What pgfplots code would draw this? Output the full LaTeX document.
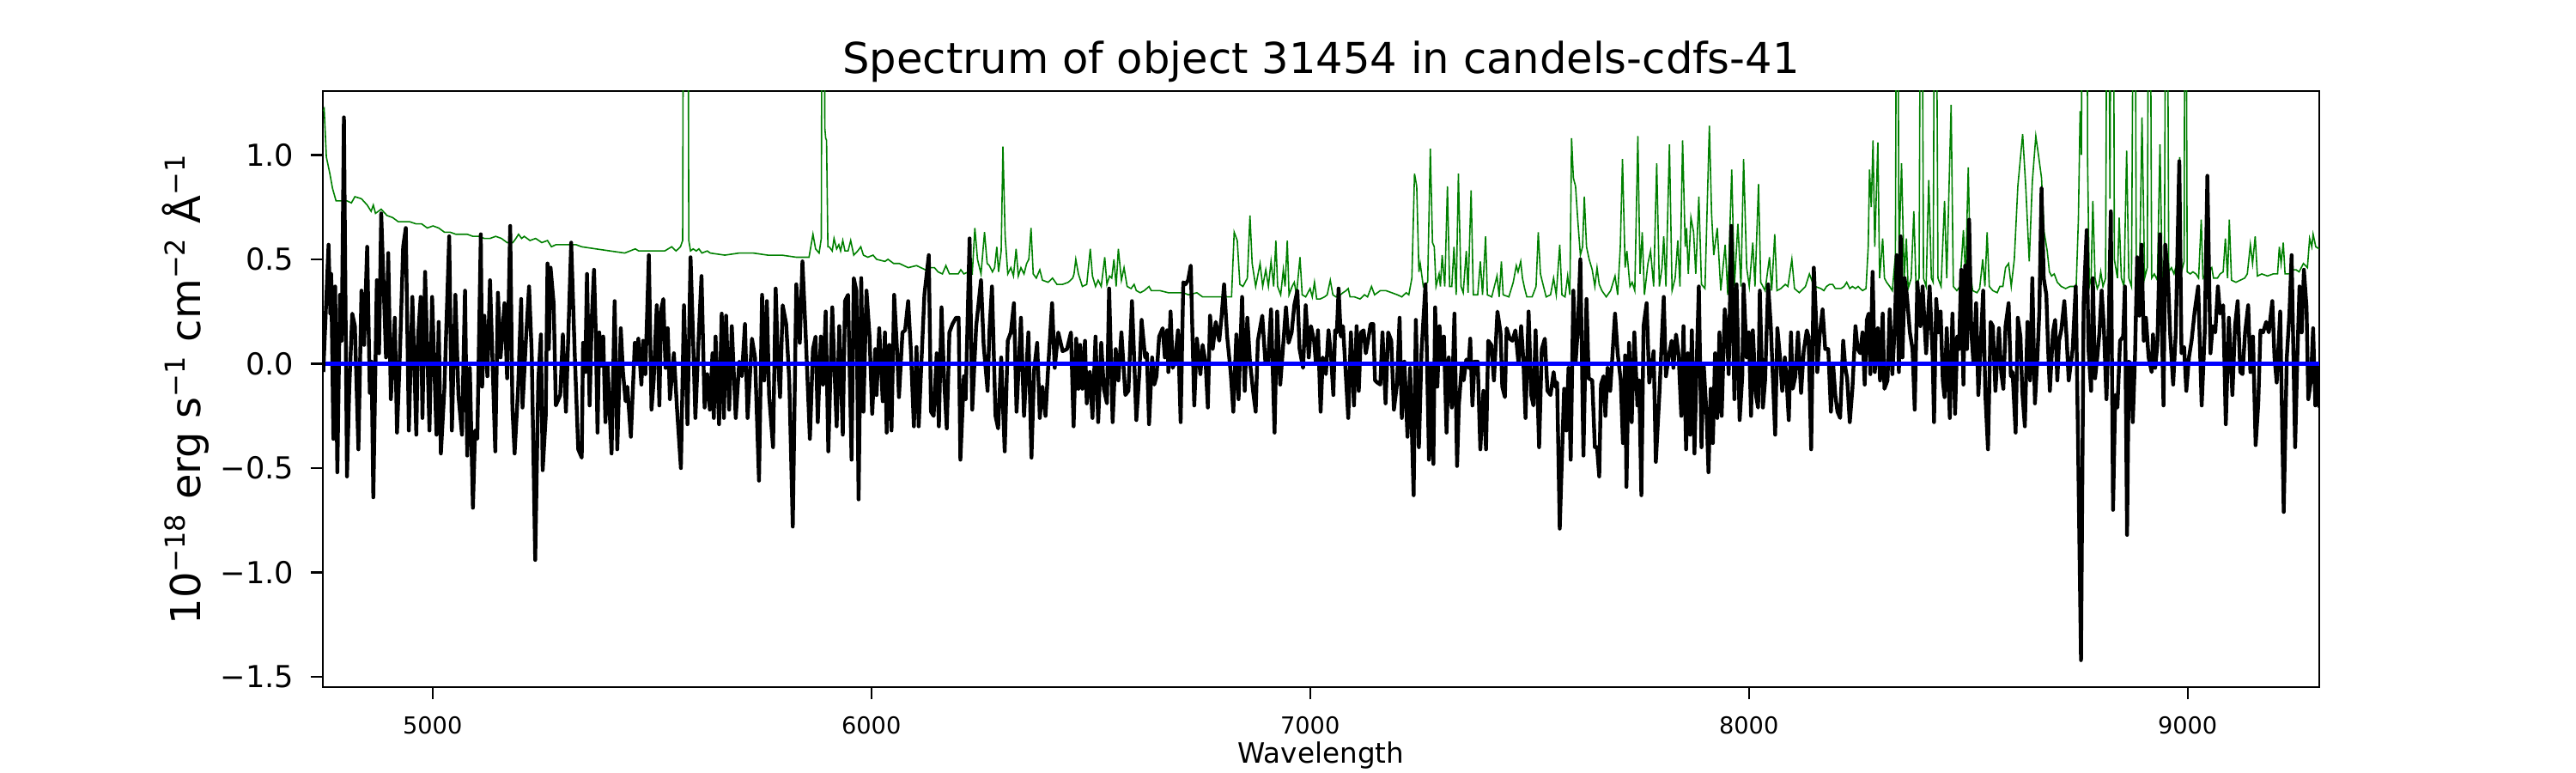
\documentclass[border=0pt]{standalone}
\usepackage{fontspec}
\setmainfont{DejaVu Sans}
\usepackage{pgfplots}
\pgfplotsset{compat=1.18}
\definecolor{mplgreen}{rgb}{0,0.5,0}
\begin{document}
\begin{tikzpicture}
\path[use as bounding box] (0,0) rectangle (750pt,225pt);
\begin{axis}[
  at={(94pt,25pt)}, anchor=south west,
  scale only axis, width=581.25pt, height=173.5pt,
  xmin=4750, xmax=9300, ymin=-1.549, ymax=1.306,
  axis line style={line width=0.6pt},
  xtick={5000,6000,7000,8000,9000},
  xticklabels={5000,6000,7000,8000,9000},
  ytick={-1.5,-1,-0.5,0,0.5,1},
  yticklabels={−1.5,−1.0,−0.5,0.0,0.5,1.0},
  tick align=outside, xtick pos=left, ytick pos=left,
  major tick length=3.5pt,
  every tick/.style={black, line width=0.6pt},
  xticklabel style={font=\fontsize{6.8}{8}\selectfont, inner sep=0pt, anchor=north, yshift=-5pt},
  yticklabel style={font=\fontsize{8.8}{10}\selectfont, inner sep=0pt, anchor=east, xshift=-4.75pt},
  title={Spectrum of object 31454 in candels-cdfs-41},
  title style={at={(axis description cs:0.5,0.9945)}, anchor=base, font=\fontsize{12.4}{14}\selectfont, inner sep=0pt},
  xlabel={Wavelength},
  xlabel style={at={(axis description cs:0.5,-0.1268)}, anchor=base, font=\fontsize{8.15}{10}\selectfont, inner sep=0pt},
  ylabel={10\textsuperscript{−18} erg s\textsuperscript{−1} cm\textsuperscript{−2} Å\textsuperscript{−1}},
  ylabel style={at={(axis description cs:-0.0688,0.5)}, anchor=center, font=\fontsize{12}{14}\selectfont, inner sep=0pt},
]
% error spectrum (green)
\addplot[mplgreen, line width=0.4pt] coordinates {
(4751,1.21) (4753,1.22) (4758,0.99) (4766,0.91) (4772,0.84) (4780,0.78) (4792,0.78) (4805,0.78) (4815,0.77) (4823,0.80) (4838,0.79) (4851,0.76) (4860,0.73) (4865,0.76) (4870,0.72) (4883,0.74) (4896,0.71) (4909,0.70) (4922,0.68) (4935,0.68) (4948,0.68) (4962,0.67) (4975,0.67) (4988,0.65) (5001,0.66) (5014,0.65) (5027,0.63) (5040,0.63) (5053,0.62) (5066,0.62) (5079,0.62) (5092,0.61) (5105,0.61) (5118,0.60) (5131,0.60) (5144,0.61) (5157,0.60) (5170,0.58) (5183,0.58) (5190,0.60) (5196,0.62) (5203,0.60) (5209,0.61) (5222,0.59) (5235,0.60) (5249,0.58) (5262,0.59) (5271,0.56) (5281,0.57) (5294,0.57) (5307,0.57) (5327,0.57)
(5340,0.56) (5372,0.55) (5405,0.54) (5438,0.53) (5462,0.55) (5470,0.54) (5503,0.54) (5529,0.54) (5545,0.56) (5555,0.54) (5565,0.56) (5570,0.59) (5573,3.0) (5581,3.0) (5584,0.59) (5588,0.54) (5594,0.55) (5601,0.54) (5607,0.55) (5614,0.53) (5626,0.54) (5633,0.53) (5666,0.52) (5699,0.53) (5731,0.53) (5764,0.52) (5796,0.52) (5829,0.51) (5858,0.51) (5867,0.62) (5873,0.55) (5881,0.53) (5886,0.60) (5888.5,3.0) (5892,3.0) (5894,1.13) (5896,1.08) (5898,1.07) (5901,0.56)
(5904,0.56) (5911,0.54) (5915,0.60) (5921,0.55) (5926,0.57) (5930,0.54) (5935,0.59) (5940,0.54) (5947,0.54) (5953,0.59) (5960,0.52) (5969,0.54) (5976,0.56) (5982,0.52) (5992,0.51) (6004,0.52) (6012,0.50) (6031,0.49) (6038,0.50) (6051,0.48) (6064,0.48) (6084,0.46) (6103,0.47) (6123,0.45) (6136,0.46) (6144,0.46) (6152,0.44) (6162,0.43) (6170,0.47) (6178,0.43) (6188,0.43) (6198,0.43) (6204,0.45) (6211,0.43) (6221,0.44) (6230,0.43) (6236,0.65) (6242,0.50) (6250,0.43) (6258,0.63) (6264,0.48) (6269,0.47) (6276,0.44) (6281,0.46) (6286,0.56) (6290,0.44) (6296,0.54) (6300,1.04) (6305,0.61) (6311,0.43) (6318,0.46) (6324,0.42) (6330,0.55) (6335,0.42) (6341,0.46) (6348,0.43) (6354,0.48) (6359,0.50) (6364,0.65) (6369,0.43) (6376,0.41) (6384,0.45) (6390,0.40) (6403,0.39) (6413,0.41) (6423,0.38) (6436,0.38) (6449,0.39) (6459,0.41)
(6462,0.43) (6466,0.50) (6472,0.43) (6481,0.37) (6491,0.38) (6499,0.55) (6504,0.42) (6511,0.37) (6517,0.40) (6524,0.37) (6532,0.51) (6537,0.38) (6543,0.42) (6548,0.41) (6553,0.50) (6558,0.37) (6563,0.55) (6570,0.40) (6576,0.46) (6583,0.37) (6592,0.36) (6599,0.38) (6604,0.35) (6613,0.34) (6622,0.35) (6633,0.37) (6638,0.35) (6658,0.35) (6677,0.34) (6697,0.34) (6710,0.34) (6723,0.33) (6742,0.34) (6755,0.32) (6782,0.32) (6808,0.32) (6821,0.32) (6827,0.63) (6834,0.59) (6840,0.38) (6847,0.37) (6857,0.41) (6863,0.71) (6868,0.48) (6876,0.37) (6886,0.48) (6892,0.37) (6899,0.45) (6905,0.37) (6911,0.49) (6917,0.37) (6922,0.59) (6926,0.37) (6933,0.33) (6939,0.45) (6943,0.37) (6948,0.59) (6952,0.33) (6959,0.37) (6964,0.39) (6969,0.33) (6977,0.51) (6982,0.33) (6990,0.32) (7000,0.36) (7005,0.32) (7010,0.39) (7015,0.31) (7023,0.31)
(7033,0.32) (7039,0.33) (7046,0.40) (7052,0.33) (7059,0.32) (7069,0.33) (7075,0.34) (7082,0.35) (7087,0.36) (7091,0.32) (7101,0.32) (7114,0.31) (7124,0.33) (7131,0.32) (7140,0.37) (7147,0.33) (7160,0.35) (7173,0.35) (7186,0.34) (7199,0.33) (7209,0.32) (7219,0.34) (7225,0.33) (7232,0.41) (7238,0.91) (7243,0.85) (7248,0.44) (7251,0.48) (7258,0.37) (7268,0.39) (7274,1.03) (7279,0.58) (7283,0.56) (7287,0.37) (7294,0.43) (7297,0.37) (7301,0.52) (7307,0.37) (7313,0.85) (7318,0.37) (7323,0.37) (7328,0.56) (7333,0.33) (7338,0.91) (7344,0.37) (7349,0.34) (7356,0.54) (7360,0.34) (7367,0.83) (7372,0.33) (7382,0.33) (7388,0.49) (7393,0.33) (7400,0.61) (7404,0.33) (7414,0.32) (7426,0.42) (7431,0.32) (7436,0.49) (7440,0.33) (7453,0.32) (7463,0.39) (7470,0.47) (7474,0.44) (7480,0.49) (7484,0.41) (7489,0.36) (7494,0.32) (7506,0.32) (7515,0.37) (7520,0.63) (7525,0.43) (7532,0.37) (7538,0.32) (7548,0.33) (7555,0.41) (7561,0.33) (7569,0.57) (7574,0.33) (7581,0.32) (7587,0.42) (7592,0.33) (7596,1.08)
(7600,0.89) (7605,0.85) (7610,0.69) (7616,0.52) (7621,0.56) (7625,0.80) (7630,0.56) (7636,0.50) (7643,0.45) (7649,0.37) (7654,0.46) (7659,0.38) (7665,0.35) (7675,0.32) (7685,0.35) (7695,0.42) (7701,0.33) (7707,0.56) (7712,0.98) (7718,0.46) (7722,0.54) (7729,0.37) (7734,0.39) (7740,0.35) (7747,1.09) (7752,0.43) (7757,0.63) (7762,0.33) (7770,0.48) (7776,0.54) (7783,0.37) (7790,0.96) (7796,0.37) (7802,0.46) (7806,0.61) (7811,0.37) (7819,1.05) (7825,0.35) (7832,0.41) (7838,0.59) (7843,0.37) (7849,1.07) (7855,0.56) (7858,0.65) (7862,0.43) (7868,0.70) (7874,0.63) (7879,0.43) (7886,0.80) (7892,0.38) (7900,0.36) (7910,1.14) (7915,0.72) (7920,0.52) (7928,0.65) (7936,0.35) (7946,0.57) (7952,0.33) (7961,0.93) (7967,0.37) (7975,0.67) (7982,0.37) (7988,0.98) (7995,0.46) (8001,0.37) (8009,0.58) (8014,0.37) (8022,0.86) (8027,0.39) (8037,0.35) (8047,0.51) (8052,0.35) (8059,0.62) (8064,0.35) (8073,0.36) (8083,0.38) (8089,0.37) (8098,0.50) (8104,0.36) (8115,0.34) (8129,0.37) (8138,0.43) (8145,0.39) (8151,0.37) (8164,0.36)
(8171,0.35) (8177,0.37) (8184,0.38) (8191,0.38) (8197,0.36) (8210,0.36) (8217,0.37) (8223,0.39) (8230,0.36) (8236,0.37) (8243,0.36) (8249,0.37) (8259,0.35) (8267,0.36) (8272,0.56) (8275,0.93) (8279,0.75) (8283,1.07) (8287,0.56) (8294,1.06) (8298,0.41) (8305,0.60) (8309,0.41) (8314,0.39) (8321,0.37) (8327,0.35) (8334,0.52) (8338,3.0) (8342,0.52) (8348,0.96) (8354,0.41) (8359,0.60) (8363,0.36) (8370,0.41) (8376,0.73) (8381,0.37) (8388,0.41) (8393,3.0) (8398,0.41) (8404,0.37) (8410,0.88) (8416,0.41) (8420,0.39) (8425,3.0) (8431,0.41) (8438,0.37) (8446,0.78) (8451,0.41) (8461,1.24) (8466,0.37) (8474,0.35) (8481,0.37) (8489,0.64) (8494,0.41) (8500,0.94) (8505,0.44) (8510,0.35) (8520,0.34) (8526,0.36) (8533,0.50) (8538,0.37) (8543,0.63) (8548,0.37) (8556,0.35) (8566,0.34) (8572,0.37) (8579,0.37) (8585,0.46) (8592,0.48) (8598,0.37) (8605,0.50) (8613,0.85) (8624,1.10) (8631,0.85) (8639,0.49) (8646,0.87) (8654,1.09) (8660,1.00) (8667,0.89) (8673,0.63) (8680,0.54) (8685,0.44) (8690,0.42) (8696,0.43) (8703,0.39) (8712,0.37) (8722,0.36) (8732,0.37)
(8738,0.37) (8746,0.37) (8751,0.69) (8755,1.21) (8758,1.00) (8761,3.0) (8766,3.0) (8770,3.0) (8772,0.97) (8776,0.37) (8780,0.41) (8784,0.78) (8789,0.41) (8794,0.36) (8798,0.38) (8802,0.44) (8807,0.37) (8813,0.41) (8818,3.0) (8823,0.79) (8827,3.0) (8830,3.0) (8833,0.50) (8840,0.41) (8844,0.70) (8849,0.41) (8855,0.37) (8861,1.02) (8866,0.41) (8872,0.37) (8879,3.0) (8883,0.41) (8890,0.37) (8896,1.18) (8902,0.41) (8908,0.46) (8913,3.0) (8918,0.41) (8924,0.43) (8931,0.40) (8937,1.05) (8942,0.41) (8947,0.44) (8952,3.0) (8957,0.44) (8963,0.46) (8969,0.43) (8975,0.48) (8982,0.99) (8986,0.44) (8992,0.49) (8995,3.0) (8999,0.44) (9006,0.43) (9012,0.44) (9019,0.43) (9025,0.41) (9031,0.69) (9035,0.41) (9042,0.43) (9048,0.44) (9055,0.46) (9059,0.41) (9068,0.41) (9074,0.43) (9081,0.44) (9086,0.60) (9091,0.41) (9095,0.69) (9100,0.40) (9110,0.39) (9120,0.40) (9130,0.41) (9136,0.43) (9143,0.57) (9148,0.48) (9154,0.61) (9159,0.42) (9169,0.43) (9182,0.42) (9195,0.43) (9205,0.43) (9209,0.56) (9213,0.48) (9218,0.58) (9222,0.43) (9231,0.43) (9241,0.45) (9247,0.45) (9254,0.44) (9264,0.48) (9273,0.46) (9278,0.60) (9283,0.56) (9286,0.62) (9292,0.56) (9300,0.55)
};
% flux (black)
\addplot[black, line width=1.1pt, line join=round] coordinates {
(4751,-0.04) (4763,0.57) (4767,0.24) (4769,0.43) (4774,-0.36) (4778,0.37) (4783,-0.52) (4789,0.33) (4793,0.11) (4798,1.18) (4805,-0.54) (4810,-0.13) (4817,0.24) (4823,0.18) (4831,-0.41) (4838,0.35) (4844,0.09) (4851,0.56) (4857,-0.14) (4861,0.01) (4865,-0.64) (4873,0.40) (4878,0.05) (4883,0.72) (4894,0.03) (4899,0.53) (4905,-0.17) (4914,0.22) (4919,-0.33) (4926,0.07) (4933,0.56) (4939,0.65) (4946,-0.32) (4954,0.32) (4963,-0.34) (4967,0.13) (4973,0.32) (4977,-0.26) (4983,0.44) (4993,-0.32) (4999,0.32) (5009,-0.34) (5014,0.20) (5019,-0.43) (5027,-0.12) (5038,0.61) (5044,-0.32) (5052,0.33) (5059,-0.15) (5067,-0.34) (5074,0.35) (5079,-0.44) (5085,-0.02) (5092,-0.69) (5097,-0.32) (5102,-0.36) (5110,0.62) (5113,-0.11) (5118,0.23) (5125,-0.06) (5131,0.40) (5143,-0.42) (5149,0.34) (5155,0.03) (5164,0.29) (5170,-0.07) (5177,0.66) (5182,-0.21) (5187,-0.43) (5195,-0.12) (5202,0.31) (5205,-0.21) (5213,0.12) (5220,0.37) (5226,0.05) (5234,-0.94) (5241,-0.08) (5247,0.14) (5251,-0.51) (5258,-0.25) (5262,0.48) (5265,0.07) (5269,0.46) (5276,0.29) (5281,-0.20) (5291,-0.15) (5297,0.14) (5304,-0.23) (5316,0.58)
(5324,0.05) (5332,-0.41) (5340,-0.45) (5343,0.10) (5348,-0.04) (5352,0.43) (5358,-0.20) (5363,0.22) (5368,0.45) (5372,0.15) (5376,-0.33) (5380,0.15) (5384,-0.01) (5389,0.13) (5394,-0.28) (5399,0.00) (5403,-0.20) (5408,-0.43) (5415,0.30) (5421,-0.41) (5429,0.17) (5434,-0.04) (5440,-0.18) (5444,-0.11) (5452,-0.35) (5461,0.10) (5464,0.00) (5469,0.12) (5476,-0.10) (5480,0.11) (5485,-0.05) (5493,0.52) (5499,-0.22) (5504,-0.08) (5511,0.28) (5517,-0.20) (5521,0.26) (5526,0.31) (5531,-0.02) (5536,0.17) (5541,-0.17) (5550,0.05) (5557,-0.21) (5566,-0.50) (5573,0.28) (5581,-0.29) (5588,0.51) (5594,0.11) (5599,-0.26) (5607,0.15) (5613,0.42) (5620,-0.21) (5626,-0.05) (5632,-0.22) (5638,0.05) (5641,-0.26) (5645,0.13) (5653,-0.29) (5659,0.24) (5664,-0.26) (5669,0.23) (5676,-0.22) (5682,0.18) (5691,-0.26) (5699,0.01) (5705,-0.06) (5712,0.19) (5718,-0.26) (5728,0.12) (5735,0.03) (5744,-0.56) (5751,0.33) (5756,-0.08) (5762,0.30) (5767,-0.15) (5776,-0.40) (5782,0.36) (5787,0.03) (5792,-0.16) (5798,0.28) (5806,0.19) (5813,-0.08) (5821,-0.78) (5829,0.38) (5837,0.10) (5843,0.49) (5851,0.11) (5860,-0.36) (5867,0.07) (5873,0.13) (5878,-0.28) (5885,0.13) (5890,-0.10)
(5896,0.25) (5902,-0.42) (5911,0.27) (5915,0.03) (5921,-0.30) (5927,0.18) (5935,-0.34) (5940,0.30) (5947,0.33) (5955,-0.46) (5960,0.41) (5966,0.35) (5971,-0.65) (5977,0.41) (5982,-0.23) (5989,0.35) (5996,0.13) (6002,-0.24) (6009,0.07) (6012,-0.15) (6018,0.17) (6026,-0.18) (6031,0.15) (6035,-0.33) (6041,0.09) (6046,-0.32) (6052,0.33) (6059,0.05) (6063,-0.16) (6071,0.15) (6077,0.16) (6084,0.30) (6090,0.07) (6097,-0.30) (6103,0.08) (6108,-0.30) (6113,-0.05) (6121,0.33) (6131,0.52) (6136,-0.23) (6142,-0.25) (6149,0.05) (6154,-0.30) (6160,0.27) (6166,-0.08) (6172,-0.31) (6178,0.15) (6185,0.19) (6193,0.22) (6199,0.22) (6203,-0.46) (6211,-0.06) (6215,-0.17) (6224,0.60) (6230,-0.22) (6239,0.18) (6250,0.40) (6256,0.09) (6265,-0.13) (6269,0.15) (6275,0.37) (6283,-0.25) (6289,-0.31) (6296,0.03) (6304,-0.42) (6311,0.11) (6318,0.15) (6325,0.29) (6331,-0.23) (6341,0.22) (6348,-0.25) (6358,0.15) (6365,-0.45) (6371,-0.03) (6378,0.10) (6384,-0.26) (6390,-0.11) (6397,-0.25) (6403,-0.02) (6412,0.29) (6418,-0.02) (6426,0.15) (6436,0.06) (6446,0.07) (6455,0.15) (6461,-0.30)
(6467,0.12) (6472,-0.12) (6476,0.09) (6481,-0.12) (6487,0.11) (6491,-0.19) (6498,-0.04) (6504,-0.26) (6511,0.13) (6517,-0.28) (6524,0.10) (6530,-0.12) (6537,-0.19) (6542,0.36) (6550,-0.28) (6557,0.07) (6563,-0.08) (6570,0.15) (6579,-0.15) (6586,-0.13) (6594,0.30) (6599,0.03) (6604,-0.27) (6611,-0.04) (6616,0.21) (6624,0.03) (6628,0.05) (6633,-0.29) (6640,0.03) (6645,-0.10) (6650,-0.06) (6656,0.13) (6664,0.17) (6669,0.03) (6674,0.16) (6677,-0.04) (6682,0.25) (6687,-0.02) (6692,0.01) (6699,0.16) (6705,-0.28) (6711,0.39) (6716,0.38) (6722,0.40) (6728,0.47) (6736,-0.20) (6742,0.12) (6750,-0.05) (6755,0.09) (6762,0.00) (6767,-0.21) (6772,0.23) (6778,0.07) (6785,0.20) (6793,0.11) (6798,0.22) (6804,0.38) (6811,0.13) (6819,-0.04) (6825,-0.23) (6832,0.14) (6837,-0.17) (6845,0.32) (6851,-0.13) (6857,0.22) (6863,0.01) (6870,-0.13) (6876,-0.23) (6881,0.11) (6891,0.23) (6898,0.01) (6904,0.00) (6911,0.26) (6919,-0.33) (6925,0.25) (6932,-0.10) (6938,0.07) (6945,0.27) (6951,0.10) (6958,0.15) (6964,0.28) (6971,0.35) (6976,0.07) (6984,-0.02) (6990,0.28) (6997,0.03) (7002,0.18) (7009,0.11) (7013,0.01) (7018,0.16) (7024,-0.23)
(7029,0.03) (7036,-0.05) (7042,0.16) (7048,0.03) (7053,-0.15) (7057,0.16) (7061,0.15) (7065,0.36) (7070,0.13) (7075,0.18) (7080,0.00) (7087,-0.26) (7093,0.15) (7100,-0.20) (7106,0.18) (7111,-0.13) (7116,0.15) (7122,0.16) (7127,0.05) (7132,0.11) (7138,0.19) (7144,0.19) (7148,-0.08) (7153,-0.09) (7160,-0.10) (7165,0.15) (7172,-0.19) (7178,0.15) (7185,0.11) (7191,-0.22) (7198,-0.10) (7204,0.22) (7209,-0.26) (7215,0.01) (7222,-0.35) (7228,-0.02) (7236,-0.63) (7241,0.21) (7248,-0.40) (7254,0.06) (7263,0.38) (7271,-0.46) (7276,0.00) (7281,-0.48) (7285,0.27) (7290,-0.11) (7295,0.18) (7300,0.00) (7305,0.13) (7311,-0.33) (7316,0.03) (7323,-0.21) (7329,0.24) (7335,-0.49) (7339,-0.20) (7346,0.00) (7350,-0.08) (7356,0.02) (7361,-0.02) (7365,0.12) (7370,-0.20) (7375,0.01) (7382,0.01) (7388,-0.41) (7395,-0.13) (7401,-0.41) (7406,0.11) (7413,0.09) (7419,-0.08) (7427,0.25) (7434,0.15) (7438,-0.11) (7444,-0.16) (7448,0.17) (7455,0.12) (7461,0.11) (7468,0.16) (7475,0.00) (7481,0.18) (7486,0.02) (7491,-0.26) (7498,0.25) (7504,-0.15) (7509,-0.20) (7514,0.16) (7522,-0.40) (7528,0.07) (7535,0.12) (7541,-0.13) (7548,-0.15) (7555,-0.04) (7559,-0.11) (7563,-0.09) (7569,-0.79) (7574,-0.45) (7579,-0.12) (7584,-0.32) (7589,-0.02) (7594,-0.46)
(7600,0.35) (7605,0.00) (7610,0.16) (7616,0.50) (7623,-0.44) (7630,0.31) (7635,-0.07) (7643,-0.08) (7649,-0.40) (7654,-0.40) (7659,-0.54) (7663,-0.10) (7669,-0.06) (7673,-0.25) (7678,-0.02) (7684,-0.13) (7690,0.07) (7695,0.24) (7701,0.05) (7708,-0.08) (7713,-0.38) (7718,0.04) (7721,-0.59) (7727,0.10) (7733,-0.28) (7739,0.15) (7746,-0.20) (7750,-0.08) (7755,-0.63) (7760,0.18) (7767,0.29) (7773,-0.09) (7783,0.06) (7788,-0.47) (7796,-0.15) (7806,0.32) (7811,-0.06) (7817,0.03) (7824,0.11) (7828,-0.02) (7834,0.14) (7840,0.04) (7846,-0.25) (7851,0.18) (7857,-0.41) (7861,0.05) (7866,-0.34) (7870,0.16) (7876,-0.43) (7881,-0.01) (7886,0.37) (7892,-0.40) (7897,0.00) (7904,-0.26) (7908,-0.52) (7913,-0.12) (7918,-0.38) (7923,0.05) (7928,-0.26) (7933,0.15) (7938,-0.25) (7945,0.26) (7950,0.15) (7954,-0.05) (7960,0.66) (7967,-0.17) (7972,0.38) (7979,-0.27) (7985,-0.06) (7988,0.38) (7995,0.03) (8000,0.15) (8005,-0.25) (8009,0.16) (8016,-0.15) (8021,-0.21) (8025,0.35) (8032,-0.21) (8037,-0.08) (8044,0.38) (8050,0.18) (8060,-0.34) (8065,0.17) (8071,0.03) (8076,-0.13) (8082,0.03) (8086,-0.08) (8091,-0.27) (8096,0.15) (8100,-0.12) (8106,-0.06) (8112,0.15) (8119,-0.14) (8125,0.06) (8132,0.16) (8136,0.13) (8142,-0.41) (8148,0.46) (8153,0.22) (8156,-0.04) (8161,0.13)
(8168,0.26) (8174,0.07) (8181,0.07) (8187,-0.23) (8192,0.00) (8197,-0.15) (8202,-0.23) (8208,-0.26) (8215,0.11) (8220,-0.02) (8224,-0.07) (8230,-0.28) (8236,-0.12) (8243,0.18) (8248,0.07) (8254,0.05) (8259,0.15) (8264,-0.10) (8269,0.21) (8273,0.24) (8277,-0.05) (8282,0.44) (8287,-0.04) (8294,0.17) (8299,-0.08) (8305,0.24) (8309,-0.12) (8316,-0.08) (8321,0.26) (8327,-0.05) (8333,0.20) (8337,0.52) (8342,-0.04) (8346,0.61) (8350,0.03) (8355,0.41) (8360,0.33) (8367,0.15) (8373,0.07) (8378,-0.22) (8384,0.39) (8391,0.18) (8396,0.37) (8404,0.05) (8412,0.37) (8419,0.03) (8422,-0.28) (8427,0.31) (8432,0.15) (8437,0.25) (8442,-0.08) (8446,-0.16) (8451,0.17) (8458,-0.26) (8464,0.24) (8470,-0.24) (8475,0.13) (8479,0.07) (8484,0.45) (8489,-0.10) (8493,0.47) (8497,0.07) (8502,0.69) (8507,0.15) (8512,0.00) (8518,0.29) (8523,-0.15) (8528,0.07) (8534,0.35) (8539,-0.15) (8545,-0.41) (8551,0.20) (8556,0.18) (8562,-0.13) (8570,0.17) (8575,-0.04) (8580,-0.12) (8585,0.18) (8592,0.29) (8597,-0.06) (8601,-0.04) (8608,-0.33) (8613,0.22) (8619,0.13) (8623,-0.13) (8629,-0.30) (8635,0.20) (8641,-0.08) (8646,0.41) (8652,-0.19) (8658,0.05) (8662,0.25) (8667,0.84) (8672,0.41) (8678,0.33) (8682,0.07) (8686,-0.13) (8693,0.15) (8698,0.21) (8703,-0.08) (8707,0.11) (8712,0.16) (8719,0.30) (8724,0.13) (8729,-0.08)
(8738,0.07) (8745,0.37) (8750,-0.34) (8757,-1.42) (8763,0.29) (8770,0.64) (8774,0.07) (8780,-0.13) (8784,0.41) (8789,-0.07) (8794,0.03) (8799,0.15) (8804,0.35) (8809,0.18) (8815,-0.17) (8820,0.17) (8825,0.73) (8830,-0.70) (8835,-0.15) (8840,-0.21) (8846,0.11) (8853,0.13) (8857,0.37) (8862,-0.82) (8866,0.01) (8871,0.00) (8875,-0.28) (8880,0.03) (8885,0.51) (8890,0.23) (8895,0.57) (8900,0.11) (8905,0.22) (8911,0.03) (8918,-0.04) (8921,0.14) (8926,-0.02) (8931,0.09) (8937,0.62) (8945,-0.20) (8949,0.57) (8955,0.43) (8960,0.15) (8967,-0.10) (8973,0.15) (8981,0.97) (8986,0.05) (8992,0.08) (8997,-0.13) (9003,0.03) (9009,0.11) (9016,0.25) (9024,0.37) (9032,-0.20) (9039,0.15) (9045,0.90) (9052,0.05) (9057,0.18) (9063,0.15) (9069,0.37) (9074,0.24) (9081,0.28) (9087,-0.29) (9094,0.22) (9102,-0.15) (9108,0.18) (9114,0.30) (9120,-0.04) (9125,-0.05) (9131,0.15) (9138,0.28) (9143,-0.04) (9149,0.13) (9155,-0.39) (9161,-0.19) (9166,0.16) (9172,0.15) (9179,0.20) (9185,0.15) (9193,0.30) (9198,0.03) (9203,-0.09) (9211,0.25) (9219,-0.71) (9226,0.03) (9232,0.24) (9237,0.52) (9245,-0.40) (9250,0.03) (9255,0.37) (9260,0.15) (9265,0.45) (9271,0.27) (9275,-0.17) (9281,-0.08) (9286,0.17) (9291,-0.20) (9296,-0.01) (9300,-0.21)
};
% model (blue)
\addplot[blue, line width=1.2pt] coordinates {(4755,0) (9300,0)};
\end{axis}
\end{tikzpicture}
\end{document}
